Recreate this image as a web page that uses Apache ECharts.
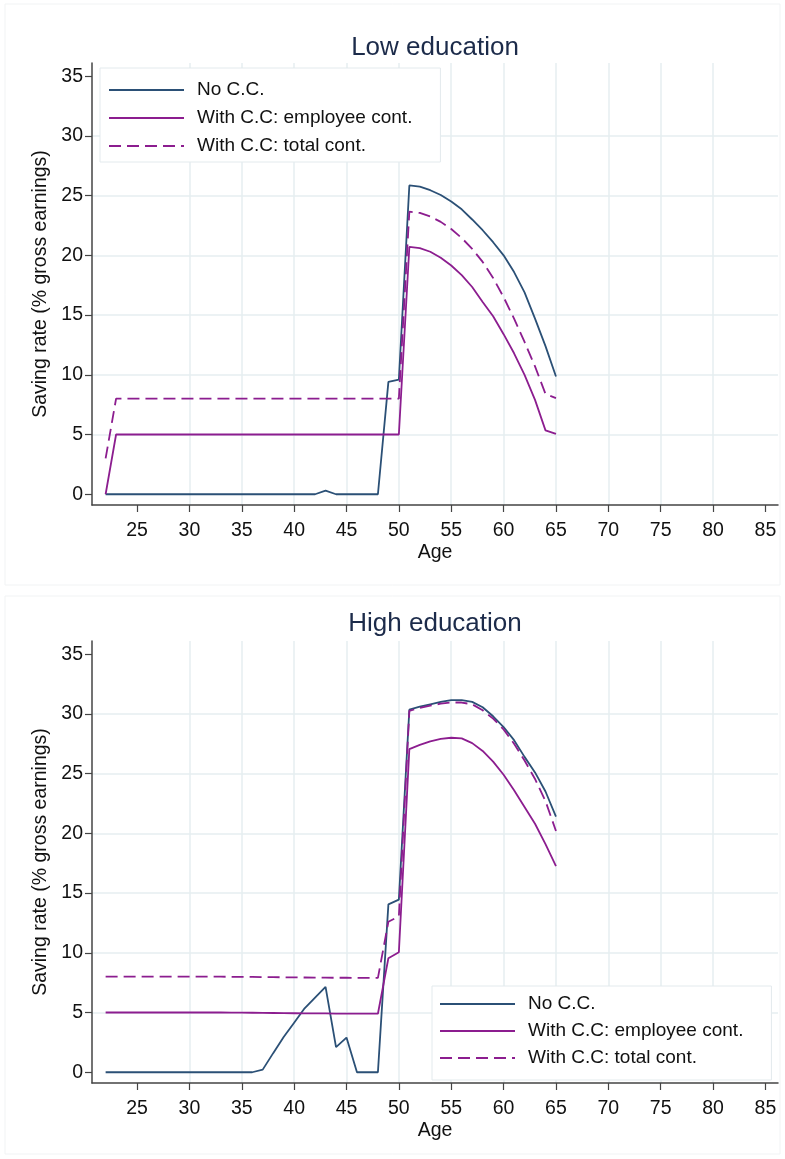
<!DOCTYPE html>
<html>
<head>
<meta charset="utf-8">
<script src="https://cdn.jsdelivr.net/npm/echarts@6/dist/echarts.min.js"></script>
<style>
html, body { margin: 0; padding: 0; background: #fff; }
#main { width: 785px; height: 1159px; }
</style>
</head>
<body>
<div id="main"></div>
<script>
// ages 22..65
var ages = [22, 23, 24, 25, 26, 27, 28, 29, 30, 31, 32, 33, 34, 35, 36, 37, 38, 39, 40, 41, 42, 43,
            44, 45, 46, 47, 48, 49, 50, 51, 52, 53, 54, 55, 56, 57, 58, 59, 60, 61, 62, 63, 64, 65];
var ageTicks = [25, 30, 35, 40, 45, 50, 55, 60, 65, 70, 75, 80, 85];
var rateTicks = [0, 5, 10, 15, 20, 25, 30, 35];
var seriesNames = ['No C.C.', 'With C.C: employee cont.', 'With C.C: total cont.'];

// Low education
var lowNoCC = [0, 0, 0, 0, 0, 0, 0, 0, 0, 0, 0, 0, 0, 0, 0, 0, 0, 0, 0, 0, 0, 0.3,
               0, 0, 0, 0, 0, 9.4, 9.6, 25.85, 25.75, 25.45, 25.05, 24.5, 23.85, 23.0, 22.1, 21.1, 20.0, 18.6, 16.9, 14.7, 12.4, 9.85];
var lowEmployee = [0, 5, 5, 5, 5, 5, 5, 5, 5, 5, 5, 5, 5, 5, 5, 5, 5, 5, 5, 5, 5, 5,
                   5, 5, 5, 5, 5, 5, 5, 20.7, 20.6, 20.3, 19.8, 19.15, 18.35, 17.35, 16.1, 14.9, 13.4, 11.8, 10.0, 7.9, 5.35, 5.05];
var lowTotal = [3, 8, 8, 8, 8, 8, 8, 8, 8, 8, 8, 8, 8, 8, 8, 8, 8, 8, 8, 8, 8, 8,
                8, 8, 8, 8, 8, 8, 8, 23.65, 23.55, 23.25, 22.8, 22.2, 21.45, 20.55, 19.45, 18.1, 16.5, 14.7, 12.75, 10.7, 8.4, 8.05];

// High education
var highNoCC = [0, 0, 0, 0, 0, 0, 0, 0, 0, 0, 0, 0, 0, 0, 0, 0.22, 1.6, 2.95, 4.15, 5.35, 6.25, 7.15,
                2.1, 2.9, 0, 0, 0, 14.05, 14.45, 30.35, 30.6, 30.8, 31.0, 31.15, 31.15, 31.0, 30.55, 29.8, 28.9, 27.8, 26.4, 25.1, 23.5, 21.4];
var highEmployee = [5.0, 5.0, 5.0, 5.0, 5.0, 5.0, 5.0, 5.0, 5.0, 5.0, 5.0, 5.0, 4.99, 4.99, 4.98, 4.97, 4.96, 4.95, 4.94, 4.93, 4.92, 4.92,
                    4.91, 4.91, 4.9, 4.9, 4.9, 9.55, 10.05, 27.05, 27.4, 27.7, 27.9, 28.0, 27.95, 27.55, 26.9, 26.0, 24.9, 23.6, 22.2, 20.8, 19.1, 17.25];
var highTotal = [8.0, 8.0, 8.0, 8.0, 8.0, 8.0, 8.0, 8.0, 8.0, 8.0, 8.0, 8.0, 7.99, 7.99, 7.98, 7.97, 7.96, 7.95, 7.94, 7.93, 7.92, 7.92,
                 7.91, 7.91, 7.9, 7.9, 7.9, 12.6, 13.05, 30.25, 30.5, 30.7, 30.85, 30.95, 30.95, 30.8, 30.3, 29.6, 28.7, 27.5, 26.1, 24.55, 22.7, 20.2];

var FONT = 'Liberation Sans, Arial, sans-serif';
var NAVY = '#2b5076';
var PURPLE = '#8c1d8f';
var GRIDLINE = '#e6eef1';

function makeX(idx) {
    return {
        type: 'value', gridIndex: idx, min: 20.7, max: 86.2,
        minInterval: 5, maxInterval: 5,
        name: 'Age', nameLocation: 'middle', nameGap: 38,
        nameTextStyle: { fontFamily: FONT, fontSize: 19.5, color: '#111' },
        axisLine: { show: true, onZero: false, lineStyle: { color: '#444', width: 1.5 } },
        axisTick: { show: true, length: 7, customValues: ageTicks, lineStyle: { color: '#444', width: 1.2 } },
        axisLabel: { customValues: ageTicks, margin: 16, fontFamily: FONT, fontSize: 19.5, color: '#111' },
        splitLine: { show: true, showMinLine: false, showMaxLine: false, lineStyle: { color: GRIDLINE, width: 1.5 } }
    };
}

function makeY(idx) {
    return {
        type: 'value', gridIndex: idx, min: -0.9, max: 36.1,
        minInterval: 5, maxInterval: 5,
        name: 'Saving rate (% gross earnings)', nameLocation: 'middle', nameGap: 40,
        nameTextStyle: { fontFamily: FONT, fontSize: 19.5, color: '#111' },
        axisLine: { show: true, onZero: false, lineStyle: { color: '#444', width: 1.5 } },
        axisTick: { show: true, length: 7, customValues: rateTicks, lineStyle: { color: '#444', width: 1.2 } },
        axisLabel: { customValues: rateTicks, margin: 9, fontFamily: FONT, fontSize: 19.5, color: '#111' },
        splitLine: { show: true, showMinLine: false, showMaxLine: false, lineStyle: { color: GRIDLINE, width: 1.5 } }
    };
}

function makeLine(name, values, idx, color, dashed) {
    return {
        name: name, type: 'line', xAxisIndex: idx, yAxisIndex: idx,
        data: ages.map(function (a, i) { return [a, values[i]]; }),
        symbol: 'none', showSymbol: false,
        lineStyle: { color: color, width: 1.8, type: dashed ? [12, 6] : 'solid' },
        itemStyle: { color: color },
        emphasis: { disabled: true }
    };
}

function makeLegend(left, top, padding, gap) {
    return {
        data: seriesNames, orient: 'vertical', left: left, top: top,
        itemWidth: 75, itemHeight: 14, itemGap: gap, padding: padding,
        backgroundColor: '#fff', borderColor: '#e3eaed', borderWidth: 1,
        selectedMode: false,
        itemStyle: { opacity: 0, borderWidth: 0 },
        textStyle: { fontFamily: FONT, fontSize: 19, color: '#111', lineHeight: 20, padding: [0, 0, 0, 8] }
    };
}

var titleStyle = { fontFamily: FONT, fontSize: 26, fontWeight: 'normal', color: '#1c2b4a' };

var chart = echarts.init(document.getElementById('main'));
chart.setOption({
    animation: false,
    backgroundColor: '#fff',
    graphic: [
        { type: 'rect', shape: { x: 5, y: 4, width: 775, height: 581 }, style: { fill: 'none', stroke: '#f1f3f4', lineWidth: 1 }, silent: true, z: -10 },
        { type: 'rect', shape: { x: 5, y: 596, width: 775, height: 558 }, style: { fill: 'none', stroke: '#f1f3f4', lineWidth: 1 }, silent: true, z: -10 }
    ],
    title: [
        { text: 'Low education', left: 435, top: 35, textAlign: 'center', padding: 0, textStyle: titleStyle },
        { text: 'High education', left: 435, top: 611, textAlign: 'center', padding: 0, textStyle: titleStyle }
    ],
    legend: [
        makeLegend(100, 68, [12, 28, 6, 8], 8),
        makeLegend(432, 986, [8, 28, 12, 7], 7)
    ],
    grid: [
        { left: 92, top: 63, width: 686, height: 442 },
        { left: 92, top: 641, width: 686, height: 442 }
    ],
    xAxis: [makeX(0), makeX(1)],
    yAxis: [makeY(0), makeY(1)],
    series: [
        makeLine(seriesNames[0], lowNoCC, 0, NAVY, false),
        makeLine(seriesNames[1], lowEmployee, 0, PURPLE, false),
        makeLine(seriesNames[2], lowTotal, 0, PURPLE, true),
        makeLine(seriesNames[0], highNoCC, 1, NAVY, false),
        makeLine(seriesNames[1], highEmployee, 1, PURPLE, false),
        makeLine(seriesNames[2], highTotal, 1, PURPLE, true)
    ]
});
</script>
</body>
</html>
